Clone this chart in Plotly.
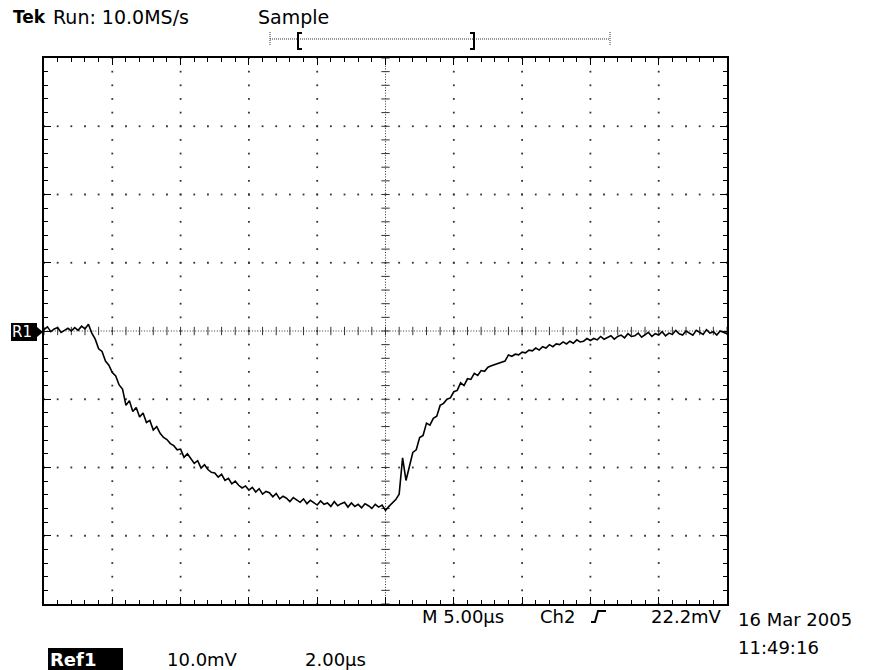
import plotly.graph_objects as go
import numpy as np

# ---- Ref1 waveform (2.00 us/div, 10.0 mV/div), one sample every 0.1 us ----
t_step_us = 0.1
ref1_mv = [
    0.2, 0.6, -0.1, 0.3, 0.5, -0.2, 0.1, 0.4, 0.0, 0.5,
    0.1, 0.7, 0.3, 1.0, -0.3, -1.2, -2.6, -3.0, -4.4, -5.0,
    -6.1, -6.6, -7.9, -8.5, -10.9, -10.2, -11.8, -11.2, -12.6, -12.0,
    -13.4, -13.1, -14.5, -14.0, -15.0, -15.6, -15.9, -16.5, -16.8, -17.4,
    -17.3, -18.5, -18.0, -18.7, -19.4, -19.0, -20.1, -19.6, -20.3, -20.7,
    -20.8, -21.4, -21.0, -21.9, -21.6, -22.4, -22.0, -22.6, -23.0, -22.7,
    -23.3, -22.9, -23.6, -23.1, -23.9, -23.5, -23.7, -24.3, -23.8, -24.6,
    -24.2, -24.5, -25.0, -24.4, -24.8, -25.1, -24.6, -25.3, -24.8, -25.2,
    -25.5, -24.9, -25.4, -25.2, -25.7, -25.0, -25.6, -25.3, -25.1, -25.8,
    -25.2, -25.7, -25.4, -25.9, -25.3, -25.6, -26.0, -25.4, -25.8, -25.5,
    -26.3, -25.7, -25.2, -24.7, -23.9, -18.6, -21.9, -19.6, -17.8, -17.4,
    -15.6, -15.3, -13.5, -13.8, -12.8, -12.5, -10.9, -10.6, -10.0, -9.8,
    -8.9, -8.7, -7.6, -8.0, -7.0, -7.1, -6.2, -6.5, -5.8, -5.9,
    -5.3, -5.1, -4.9, -4.7, -4.5, -4.4, -3.5, -3.7, -3.4, -3.5,
    -3.1, -3.2, -2.8, -2.9, -2.5, -2.8, -2.3, -2.5, -2.0, -2.3,
    -1.9, -2.0, -1.6, -1.9, -1.5, -1.8, -1.3, -1.6, -1.5, -1.1,
    -1.4, -1.1, -1.3, -0.8, -1.2, -1.0, -0.7, -1.2, -0.8, -0.6,
    -1.0, -0.4, -0.8, -0.7, -0.3, -0.9, -0.5, -0.2, -0.8, -0.4,
    -0.6, -0.1, -0.7, -0.3, -0.5, 0.1, -0.4, -0.6, 0.0, -0.3,
    -0.6, 0.1, -0.2, -0.5, 0.2, -0.3, -0.1, -0.6, 0.0, -0.2,
    -0.4,
]
t_us = [round(i * t_step_us, 2) for i in range(len(ref1_mv))]

# ---- screen scales ----
x_div_us = 2.0          # 2.00 us / div
y_div_mv = 10.0         # 10.0 mV / div
n_xdiv, n_ydiv = 10, 8
x_min, x_max = 0.0, x_div_us * n_xdiv
y_min, y_max = -y_div_mv * n_ydiv / 2, y_div_mv * n_ydiv / 2
x_center, y_center = x_max / 2, 0.0

# ---- readout text ----
hdr_brand = "Tek"
hdr_run = "Run: 10.0MS/s"
hdr_mode = "Sample"
trig_time = "M 5.00µs"
trig_src = "Ch2"
trig_level = "22.2mV"
date_text = "16 Mar 2005"
time_text = "11:49:16"
ref_label = "Ref1"
ref_volts = "10.0mV"
ref_time = "2.00µs"
ref_marker = "R1"

# ---- page geometry (pixels) ----
W, H = 876, 670
L, T, R, B = 44, 58, 727, 604
PW, PH = R - L, B - T


def px(x):
    return (x - L) / PW


def py(y):
    return (B - y) / PH


FONT = "DejaVu Sans"

fig = go.Figure()

# graticule: dotted major lines, a dot every 1/5 division
minor_x = np.arange(x_min, x_max + 1e-9, x_div_us / 5)
minor_y = np.arange(y_min, y_max + 1e-9, y_div_mv / 5)
major_x = [v for v in np.arange(x_min + x_div_us, x_max, x_div_us) if abs(v - x_center) > 1e-9]
major_y = [v for v in np.arange(y_min + y_div_mv, y_max, y_div_mv) if abs(v - y_center) > 1e-9]

gx, gy = [], []
for xv in major_x:
    gx += [xv] * len(minor_y)
    gy += list(minor_y)
for yv in major_y:
    gx += list(minor_x)
    gy += [yv] * len(minor_x)
fig.add_trace(go.Scatter(
    x=gx, y=gy, mode="markers", hoverinfo="skip",
    marker=dict(symbol="square", size=1.8, color="#333", line=dict(width=0)),
))

# centre cross ticks
fig.add_trace(go.Scatter(
    x=list(minor_x), y=[y_center] * len(minor_x), mode="markers", hoverinfo="skip",
    marker=dict(symbol="line-ns", size=6, line=dict(width=1, color="#333")),
))
fig.add_trace(go.Scatter(
    x=[x_center] * len(minor_y), y=list(minor_y), mode="markers", hoverinfo="skip",
    marker=dict(symbol="line-ew", size=6, line=dict(width=1, color="#333")),
))

# waveform
fig.add_trace(go.Scatter(
    x=t_us, y=ref1_mv, mode="lines", hoverinfo="skip",
    line=dict(color="black", width=1.6),
))

shapes = []
# dense dotted centre lines
shapes.append(dict(type="line", xref="x", yref="y", x0=x_min, x1=x_max, y0=y_center, y1=y_center,
                   line=dict(color="#333", width=1, dash="1px,1.7px"), layer="below"))
shapes.append(dict(type="line", xref="x", yref="y", x0=x_center, x1=x_center, y0=y_min, y1=y_max,
                   line=dict(color="#333", width=1, dash="1px,1.7px"), layer="below"))

# record-window bracket in the header
shapes.append(dict(type="line", xref="paper", yref="paper", x0=px(270), x1=px(610), y0=py(39), y1=py(39),
                   line=dict(color="#333", width=1, dash="1px,1px")))
for xe in (270, 610):
    shapes.append(dict(type="line", xref="paper", yref="paper", x0=px(xe), x1=px(xe), y0=py(32), y1=py(46),
                       line=dict(color="#333", width=1, dash="1px,1px")))


def path(pts, close=False):
    s = "M " + " L ".join(f"{px(a):.5f},{py(b):.5f}" for a, b in pts)
    return s + (" Z" if close else "")


shapes.append(dict(type="path", xref="paper", yref="paper",
                   path=path([(302, 33), (298, 33), (298, 49), (302, 49)]),
                   line=dict(color="black", width=2)))
shapes.append(dict(type="path", xref="paper", yref="paper",
                   path=path([(470, 33), (474, 33), (474, 49), (470, 49)]),
                   line=dict(color="black", width=2)))

# trigger slope symbol
shapes.append(dict(type="path", xref="paper", yref="paper",
                   path=path([(591, 622), (595, 622), (598, 611), (606, 611)]),
                   line=dict(color="black", width=2)))

# R1 ground marker
shapes.append(dict(type="rect", xref="paper", yref="paper", x0=px(11), x1=px(37), y0=py(341), y1=py(323),
                   fillcolor="black", line=dict(width=0)))
shapes.append(dict(type="path", xref="paper", yref="paper",
                   path=path([(37, 327), (43, 332), (37, 337)], close=True),
                   fillcolor="black", line=dict(width=0)))

# Ref1 readout box
shapes.append(dict(type="rect", xref="paper", yref="paper", x0=px(48), x1=px(123), y0=py(670), y1=py(648),
                   fillcolor="black", line=dict(width=0)))

annotations = []


def label(text, x, y, size=18, color="black", anchor="left", bold=False):
    annotations.append(dict(
        text=f"<b>{text}</b>" if bold else text, xref="paper", yref="paper",
        x=px(x), y=py(y), xanchor=anchor, yanchor="middle", showarrow=False,
        font=dict(family=FONT, size=size, color=color),
    ))


label(hdr_brand, 11, 17, size=17, bold=True)
label(hdr_run, 51, 17, size=19)
label(hdr_mode, 256, 17, size=19)
label(trig_time, 420, 616)
label(trig_src, 538, 616)
label(trig_level, 724, 616, anchor="right")
label(date_text, 736, 619)
label(time_text, 736, 647)
label(ref_label, 48, 659, color="white", bold=True)
label(ref_volts, 165, 659)
label(ref_time, 303, 659)
label(ref_marker, 10, 332, size=15, color="white")

axis_common = dict(
    showline=True, linecolor="black", linewidth=2, mirror="ticks",
    ticks="inside", tickcolor="black", tickwidth=1, ticklen=7,
    showticklabels=False, showgrid=False, zeroline=False, fixedrange=True,
)

fig.update_layout(
    width=W, height=H,
    margin=dict(l=L, r=W - R, t=T, b=H - B, pad=0),
    paper_bgcolor="white", plot_bgcolor="white",
    showlegend=False,
    xaxis=dict(range=[x_min, x_max], tick0=x_min, dtick=x_div_us,
               minor=dict(dtick=x_div_us / 5, tick0=x_min, ticks="inside", ticklen=4,
                          tickcolor="black", tickwidth=1, showgrid=False),
               **axis_common),
    yaxis=dict(range=[y_min, y_max], tick0=y_min, dtick=y_div_mv,
               minor=dict(dtick=y_div_mv / 5, tick0=y_min, ticks="inside", ticklen=4,
                          tickcolor="black", tickwidth=1, showgrid=False),
               **axis_common),
    shapes=shapes,
    annotations=annotations,
)

fig.write_html("out.html")
